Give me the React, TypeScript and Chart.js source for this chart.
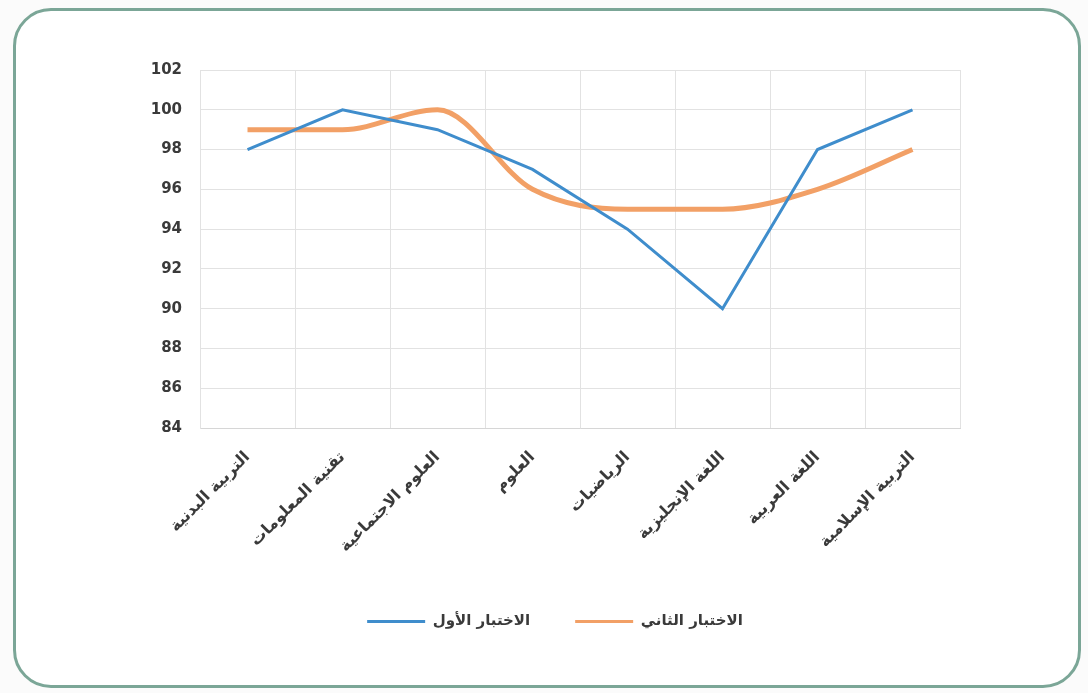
import React, { useEffect, useRef } from "react";
import { Chart, registerables } from "chart.js";

Chart.register(...registerables);

const categories = [
  "التربية البدنية",
  "تقنية المعلومات",
  "العلوم الاجتماعية",
  "العلوم",
  "الرياضيات",
  "اللغة الإنجليزية",
  "اللغة العربية",
  "التربية الإسلامية",
];
const firstTest = [98, 100, 99, 97, 94, 90, 98, 100];
const secondTest = [99, 99, 100, 96, 95, 95, 96, 98];
const seriesNames = ["الاختبار الأول", "الاختبار الثاني"];
const yMin = 84;
const yMax = 102;
const yStep = 2;

export default function App() {
  const ref = useRef<HTMLCanvasElement | null>(null);

  useEffect(() => {
    if (!ref.current) return;
    const fam = "'DejaVu Sans', sans-serif";
    const chart = new Chart(ref.current, {
      type: "line",
      data: {
        labels: categories,
        datasets: [
          {
            label: seriesNames[0],
            data: firstTest,
            borderColor: "#3f8dcc",
            backgroundColor: "#3f8dcc",
            borderWidth: 3,
            pointRadius: 0,
            tension: 0,
          },
          {
            label: seriesNames[1],
            data: secondTest,
            borderColor: "#f2a066",
            backgroundColor: "#f2a066",
            borderWidth: 5,
            pointRadius: 0,
            cubicInterpolationMode: "monotone",
          },
        ],
      },
      options: {
        responsive: false,
        animation: false,
        layout: { padding: { left: 150, top: 70, right: 128, bottom: 54 } },
        scales: {
          x: {
            offset: true,
            grid: { color: "#e2e2e2", drawTicks: false, offset: true },
            border: { color: "#d6d6d6" },
            ticks: {
              minRotation: 45,
              maxRotation: 45,
              padding: 20,
              color: "#3a3a3a",
              font: { family: fam, size: 16, weight: "bold" },
            },
            afterFit: (s: any) => {
              s.height = 141;
            },
          },
          y: {
            min: yMin,
            max: yMax,
            grid: { color: "#e2e2e2", drawTicks: false },
            border: { color: "#e2e2e2" },
            ticks: {
              stepSize: yStep,
              padding: 18,
              color: "#3a3a3a",
              font: { family: fam, size: 15, weight: "bold" },
            },
            afterFit: (s: any) => {
              s.width = 50;
            },
          },
        },
        plugins: {
          legend: {
            position: "bottom",
            labels: {
              boxWidth: 58,
              boxHeight: 3,
              padding: 45,
              color: "#3a3a3a",
              font: { family: fam, size: 15, weight: "bold" },
              generateLabels: (c: any) =>
                Chart.defaults.plugins.legend.labels
                  .generateLabels(c)
                  .map((l: any) => ({ ...l, lineWidth: 0 })),
            },
          },
          tooltip: { enabled: false },
        },
      },
    });
    return () => chart.destroy();
  }, []);

  return (
    <div style={{ position: "fixed", left: 0, top: 0, width: 1088, height: 693, background: "#fbfbfb" }}>
      <div
        style={{
          position: "absolute",
          left: 13,
          top: 8,
          width: 1062,
          height: 674,
          border: "3px solid #7ba697",
          borderRadius: 38,
          background: "#ffffff",
        }}
      />
      <canvas
        ref={ref}
        width={1088}
        height={693}
        style={{ position: "absolute", left: 0, top: 0, display: "block" }}
      />
    </div>
  );
}
